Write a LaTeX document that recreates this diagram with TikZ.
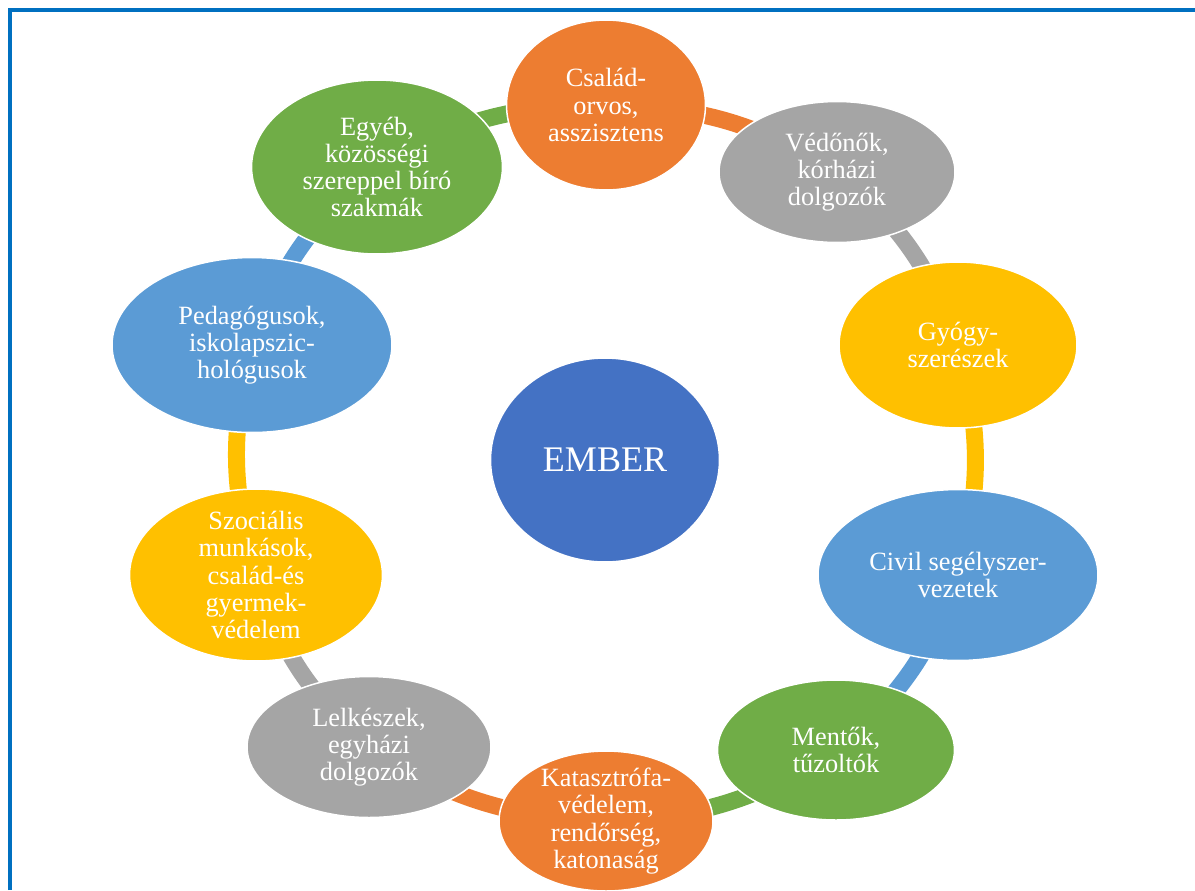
\documentclass[tikz,border=0pt]{standalone}
\usepackage{fontspec}
\setmainfont{Liberation Serif}
\usetikzlibrary{shapes.geometric}
\usetikzlibrary{backgrounds}
\definecolor{framecol}{HTML}{0070C0}
\definecolor{embercol}{HTML}{4472C4}
\definecolor{orangecol}{HTML}{ED7D31}
\definecolor{graycol}{HTML}{A5A5A5}
\definecolor{yellowcol}{HTML}{FFC000}
\definecolor{bluecol}{HTML}{5B9BD5}
\definecolor{greencol}{HTML}{70AD47}

\begin{document}
\begin{tikzpicture}[x=0.02cm,y=0.02cm,
  blob/.style={ellipse,draw=white,line width=0.03cm,inner sep=0pt},
  txt/.style={text=white,align=center,inner sep=0pt,font=\fontsize{15}{15.5}\selectfont},
  link/.style={line width=0.34cm,bend left=15}]
\useasboundingbox (0,0) rectangle (1195,-890);
\draw[line width=0.08cm,framecol] (10,-890) -- (10,-9.5) -- (1195,-9.5);

\node[blob,fill=embercol,minimum width=4.58cm,minimum height=4.08cm] (m) at (605,-460)
  {\textcolor{white}{\fontsize{20.5}{22}\selectfont EMBER}};
\node[blob,fill=orangecol,minimum width=3.98cm,minimum height=3.40cm,
  label={[txt]center:{Család-\\orvos,\\asszisztens}}] (a) at (606,-105) {};
\node[blob,fill=graycol,minimum width=4.72cm,minimum height=2.82cm,
  label={[txt]center:{Védőnők,\\kórházi\\dolgozók}}] (b) at (837,-172) {};
\node[blob,fill=yellowcol,minimum width=4.76cm,minimum height=3.32cm,
  label={[txt]center:{Gyógy-\\szerészek}}] (c) at (958,-345) {};
\node[blob,fill=bluecol,minimum width=5.60cm,minimum height=3.42cm,
  label={[txt]center:{Civil segélyszer-\\vezetek}}] (d) at (958,-575) {};
\node[blob,fill=greencol,minimum width=4.74cm,minimum height=2.80cm,
  label={[txt]center:{Mentők,\\tűzoltók}}] (e) at (836,-750) {};
\node[blob,fill=orangecol,minimum width=4.28cm,minimum height=2.80cm,
  label={[txt]center:{Katasztrófa-\\védelem,\\rendőrség,\\katonaság}}] (f) at (606,-821) {};
\node[blob,fill=graycol,minimum width=4.88cm,minimum height=2.82cm,
  label={[txt]center:{Lelkészek,\\egyházi\\dolgozók}}] (g) at (369,-747) {};
\node[blob,fill=yellowcol,minimum width=5.06cm,minimum height=3.44cm,
  label={[txt]center:{Szociális\\munkások,\\család-és\\gyermek-\\védelem}}] (h) at (256,-575) {};
\node[blob,fill=bluecol,minimum width=5.60cm,minimum height=3.50cm,
  label={[txt]center:{Pedagógusok,\\iskolapszic-\\hológusok}}] (i) at (252,-345) {};
\node[blob,fill=greencol,minimum width=5.02cm,minimum height=3.48cm,
  label={[txt]center:{Egyéb,\\közösségi\\szereppel bíró\\szakmák}}] (j) at (377,-167) {};

\begin{scope}[on background layer]
\draw[link,orangecol] (a.center) to (b.center);
\draw[link,graycol] (b.center) to (c.center);
\draw[link,yellowcol] (c.center) to (d.center);
\draw[link,bluecol] (d.center) to (e.center);
\draw[link,greencol] (e.center) to (f.center);
\draw[link,orangecol] (f.center) to (g.center);
\draw[link,graycol] (g.center) to (h.center);
\draw[link,yellowcol] (h.center) to (i.center);
\draw[link,bluecol] (i.center) to (j.center);
\draw[link,greencol] (j.center) to (a.center);
\end{scope}
\end{tikzpicture}
\end{document}
